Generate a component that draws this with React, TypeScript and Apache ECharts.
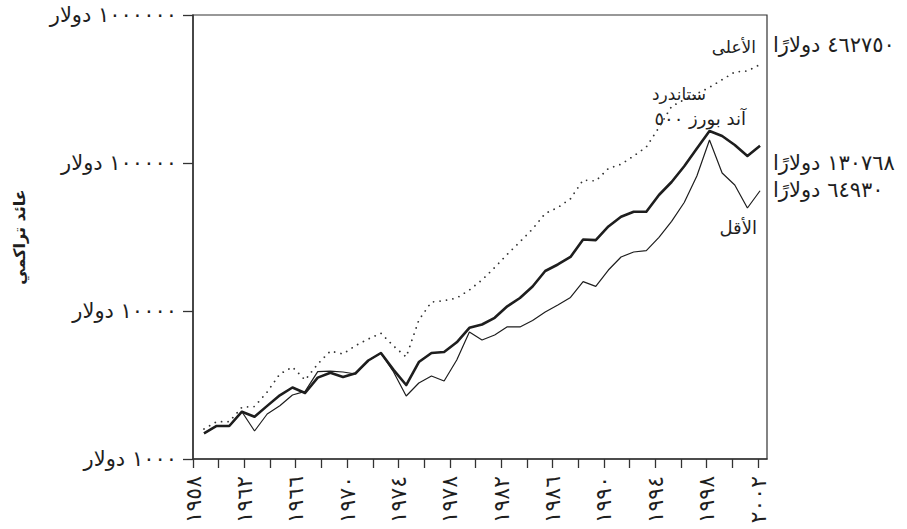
import React, { useEffect, useRef } from 'react';
import * as echarts from 'echarts';

// Data points (yearly, 1958–2002)
const years = [
  1958, 1959, 1960, 1961, 1962, 1963, 1964, 1965, 1966, 1967,
  1968, 1969, 1970, 1971, 1972, 1973, 1974, 1975, 1976, 1977,
  1978, 1979, 1980, 1981, 1982, 1983, 1984, 1985, 1986, 1987,
  1988, 1989, 1990, 1991, 1992, 1993, 1994, 1995, 1996, 1997,
  1998, 1999, 2000, 2001, 2002,
];

// Highest (dotted)
const highest = [
  1595, 1787, 1787, 2235, 2263, 2836, 3752, 4184, 3418, 4384,
  5366, 5123, 5846, 6470, 7069, 5801, 4890, 8692, 11500, 11740,
  12240, 13870, 16200, 19670, 24160, 29350, 35820, 45590, 50030, 57390,
  76740, 75560, 91800, 98000, 111500, 128300, 173800, 241100, 268000, 294000,
  324300, 365500, 412000, 418400, 462750,
];

// S&P 500 (thick)
const sp500 = [
  1491, 1671, 1671, 2087, 1931, 2285, 2694, 3042, 2792, 3548,
  3830, 3581, 3800, 4630, 5203, 4000, 3162, 4520, 5203, 5284,
  6144, 7698, 8105, 8995, 10760, 12240, 14640, 18630, 20620, 23170,
  30400, 30100, 37240, 43300, 46880, 46880, 60780, 74380, 95150, 125300,
  164500, 152200, 132300, 111500, 130768,
];

// Lowest (thin)
const lowest = [
  1491, 1671, 1671, 2087, 1546, 2014, 2291, 2707, 2867, 3890,
  3930, 3871, 3752, 4630, 5203, 3871, 2665, 3263, 3638, 3365,
  4665, 7211, 6368, 6882, 7820, 7800, 8627, 9845, 10980, 12340,
  15780, 14660, 18920, 23170, 25040, 25550, 31470, 40360, 54080, 81660,
  143000, 85580, 71000, 49650, 64930,
];

const xTickYears = [
  1958, 1960, 1962, 1964, 1966, 1968, 1970, 1972, 1974, 1976, 1978, 1980,
  1982, 1984, 1986, 1988, 1990, 1992, 1994, 1996, 1998, 2000, 2002,
];
const xLabelYears = [1958, 1962, 1966, 1970, 1974, 1978, 1982, 1986, 1990, 1994, 1998, 2002];
const xTickLabels = ['١٩٥٨', '١٩٦٢', '١٩٦٦', '١٩٧٠', '١٩٧٤', '١٩٧٨', '١٩٨٢', '١٩٨٦', '١٩٩٠', '١٩٩٤', '١٩٩٨', '٢٠٠٢'];

const yTickLabels = ['١٠٠٠ دولار', '١٠٠٠٠ دولار', '١٠٠٠٠٠ دولار', '١٠٠٠٠٠٠ دولار'];
const yAxisName = 'عائد تراكمي';

const endLabels = ['٤٦٢٧٥٠ دولارًا', '١٣٠٧٦٨ دولارًا', '٦٤٩٣٠ دولارًا'];
const seriesNames = ['الأعلى', 'ستاندرد', 'آند بورز ٥٠٠', 'الأقل'];

const FONT = '"DejaVu Sans", "Noto Sans", sans-serif';
const INK = '#1e1e1e';

export default function App() {
  const ref = useRef<HTMLDivElement>(null);

  useEffect(() => {
    if (!ref.current) return;
    const chart = echarts.init(ref.current, null, { renderer: 'svg' });

    const textStyle = (text: string, size = 15) => ({
      text,
      fontSize: size,
      fontFamily: FONT,
      fill: INK,
    });

    chart.setOption({
      animation: false,
      backgroundColor: '#ffffff',
      grid: {
        left: 193,
        right: 140,
        top: 15,
        bottom: 70,
        show: true,
        borderColor: '#333',
        borderWidth: 1.2,
      },
      xAxis: [
        {
          type: 'value',
          min: 1958,
          max: 2002.7,
          position: 'bottom',
          axisLine: { show: true, onZero: false, lineStyle: { color: '#333', width: 1.5 } },
          axisTick: {
            show: true,
            length: 9,
            customValues: xTickYears,
            lineStyle: { color: '#333', width: 1.3 },
          },
          axisLabel: {
            customValues: xLabelYears,
            formatter: (v: number) => {
              const idx = xLabelYears.indexOf(Math.round(v));
              return idx >= 0 ? xTickLabels[idx] : '';
            },
            rotate: 90,
            margin: 17,
            fontSize: 22,
            color: INK,
            fontFamily: FONT,
          },
          splitLine: { show: false },
        },
        {
          type: 'value',
          min: 1957.13,
          max: 2002.55,
          show: false,
          splitLine: { show: false },
        },
      ],
      yAxis: {
        type: 'log',
        logBase: 10,
        min: 1000,
        max: 1000000,
        name: yAxisName,
        nameLocation: 'middle',
        nameRotate: 90,
        nameGap: 166,
        nameTextStyle: { fontSize: 16, fontWeight: 'bold', color: INK, fontFamily: FONT },
        axisLine: { show: true, onZero: false, lineStyle: { color: '#333', width: 1.5 } },
        axisTick: { show: true, length: 10, lineStyle: { color: '#333', width: 1.3 } },
        axisLabel: {
          margin: 16,
          fontSize: 21,
          color: INK,
          fontFamily: FONT,
          formatter: (v: number) => {
            const idx = Math.round(Math.log10(v)) - 3;
            return yTickLabels[idx] ?? '';
          },
        },
        splitLine: { show: false },
        minorTick: { show: false },
      },
      series: [
        {
          name: seriesNames[0],
          type: 'line',
          xAxisIndex: 1,
          data: years.map((y, i) => [y, highest[i]]),
          symbol: 'none',
          lineStyle: { color: '#333', width: 1.8, type: [0.01, 6.5], cap: 'round' },
        },
        {
          name: seriesNames[1],
          type: 'line',
          xAxisIndex: 1,
          data: years.map((y, i) => [y, sp500[i]]),
          symbol: 'none',
          lineStyle: { color: INK, width: 2.6, join: 'round' },
          z: 3,
        },
        {
          name: seriesNames[3],
          type: 'line',
          xAxisIndex: 1,
          data: years.map((y, i) => [y, lowest[i]]),
          symbol: 'none',
          lineStyle: { color: INK, width: 1.2 },
        },
      ],
      graphic: [
        { type: 'text', x: 773, y: 45, style: { ...textStyle(endLabels[0], 21), align: 'left', verticalAlign: 'middle' } },
        { type: 'text', x: 773, y: 163, style: { ...textStyle(endLabels[1], 21), align: 'left', verticalAlign: 'middle' } },
        { type: 'text', x: 773, y: 190, style: { ...textStyle(endLabels[2], 21), align: 'left', verticalAlign: 'middle' } },
        { type: 'text', x: 756, y: 47, style: { ...textStyle(seriesNames[0], 17), align: 'right', verticalAlign: 'middle' } },
        { type: 'text', x: 706, y: 94, style: { ...textStyle(seriesNames[1], 17), align: 'right', verticalAlign: 'middle' } },
        { type: 'text', x: 746, y: 118, style: { ...textStyle(seriesNames[2], 18), align: 'right', verticalAlign: 'middle' } },
        { type: 'text', x: 757, y: 227, style: { ...textStyle(seriesNames[3], 18), align: 'right', verticalAlign: 'middle' } },
      ],
    });

    return () => chart.dispose();
  }, []);

  return (
    <div
      ref={ref}
      style={{ position: 'fixed', left: 0, top: 0, width: 907, height: 529, background: '#fff' }}
    />
  );
}
